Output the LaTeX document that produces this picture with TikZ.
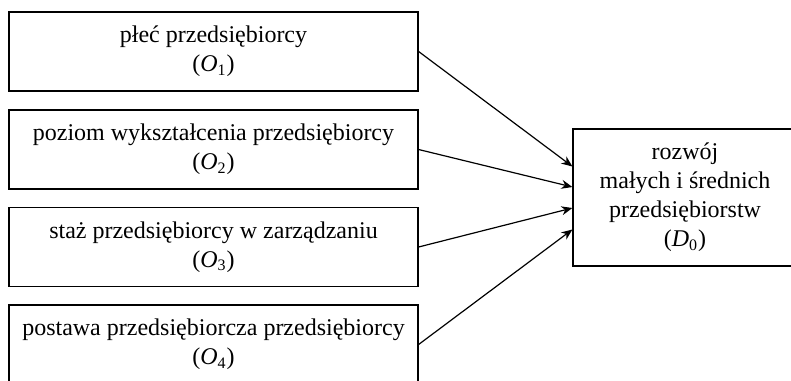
\documentclass[tikz,border=0pt]{standalone}
\usepackage{fontspec}
\setmainfont{Liberation Serif}
\usetikzlibrary{arrows.meta}
\newcommand{\factsize}{\fontsize{12pt}{14.5pt}\selectfont}
\newcommand{\varsym}[2]{\textit{#1}\textsubscript{#2}}

\begin{document}
\begin{tikzpicture}[
  x=0.5pt,
  y=-0.5pt,
  every node/.style={font=\factsize, text=black},
  factor/.style={draw=black, line width=0.6pt, minimum width=204.5pt,
    minimum height=39.5pt, align=center, inner sep=0pt},
  outcome/.style={draw=black, line width=0.6pt, minimum width=112pt,
    minimum height=68.5pt, align=center, inner sep=0pt},
  link/.style={black, line width=0.6pt, -{Stealth[length=5.5pt, width=4.5pt]}}
]
  % ---- page frame, the picture is cut at the right and bottom ----------
  \useasboundingbox (0,0) rectangle (791,380);
  \clip (0,0) rectangle (791,380);

  % ---- the four factors ------------------------------------------------
  \node[factor] (o1) at (213.5,51.5) {płeć przedsiębiorcy\\(\varsym{O}{1})};
  \node[factor] (o2) at (213.5,149.5) {poziom wykształcenia przedsiębiorcy\\(\varsym{O}{2})};
  \node[factor] (o3) at (213.5,247) {staż przedsiębiorcy w zarządzaniu\\(\varsym{O}{3})};
  \node[factor] (o4) at (213.5,344.5) {postawa przedsiębiorcza przedsiębiorcy\\(\varsym{O}{4})};

  % ---- the outcome -----------------------------------------------------
  \node[outcome] (d0) at (685,197.5)
    {rozwój\\małych i średnich\\przedsiębiorstw\\(\varsym{D}{0})};

  % ---- arrows into the outcome -----------------------------------------
  \draw[link] (o1.east) -- ([yshift=15.5pt]d0.west);
  \draw[link] (o2.east) -- ([yshift=5.25pt]d0.west);
  \draw[link] (o3.east) -- ([yshift=-5.25pt]d0.west);
  \draw[link] (o4.east) -- ([yshift=-16pt]d0.west);
\end{tikzpicture}
\end{document}
